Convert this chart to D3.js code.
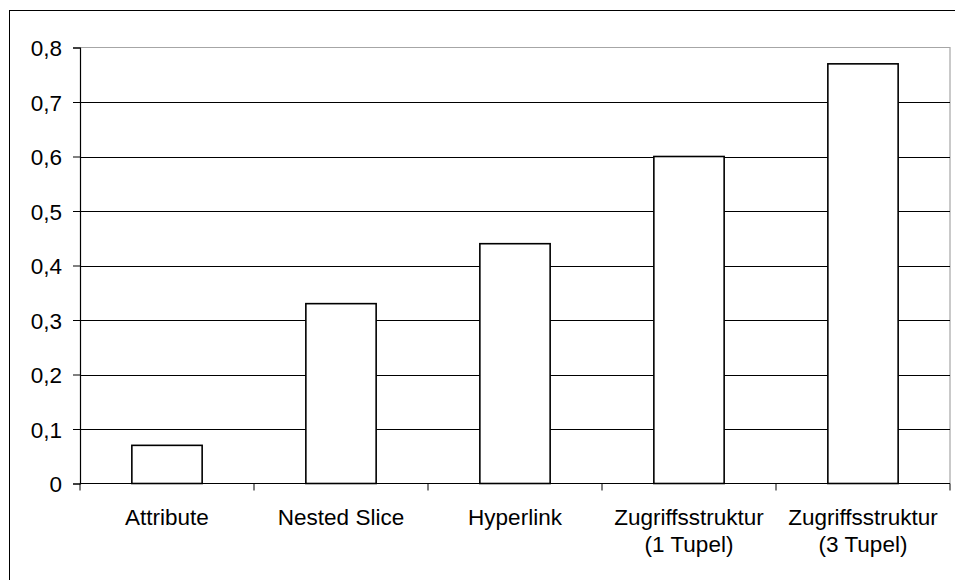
<!DOCTYPE html>
<html>
<head>
<meta charset="utf-8">
<script src="https://cdn.jsdelivr.net/npm/d3@7"></script>
<style>
  html, body { margin: 0; padding: 0; background: #fff; }
  svg { display: block; }
  text { font-family: "Liberation Sans", Arial, sans-serif; fill: #000; }
</style>
</head>
<body>
<div id="chart"></div>
<script>
// Categories (two-line labels) and their values
const categories = [
  ["Attribute"],
  ["Nested Slice"],
  ["Hyperlink"],
  ["Zugriffsstruktur", "(1 Tupel)"],
  ["Zugriffsstruktur", "(3 Tupel)"]
];
const values = [0.07, 0.33, 0.44, 0.60, 0.77];
const yTicks = [0, 0.1, 0.2, 0.3, 0.4, 0.5, 0.6, 0.7, 0.8];
const yTickLabels = ["0", "0,1", "0,2", "0,3", "0,4", "0,5", "0,6", "0,7", "0,8"];

const W = 955, H = 580;
const plot = { left: 80, right: 950, top: 47.5, bottom: 483.5 };
const fontSize = 22.5;

const svg = d3.select("#chart").append("svg")
  .attr("width", W).attr("height", H);

// Outer chart frame
svg.append("rect")
  .attr("x", 9.5).attr("y", 10.5)
  .attr("width", W).attr("height", H)
  .attr("fill", "none").attr("stroke", "#000").attr("stroke-width", 1);

const keys = categories.map((c, i) => i);
const x = d3.scaleBand().domain(keys).range([plot.left, plot.right]).paddingInner(0).paddingOuter(0);
const y = d3.scaleLinear().domain([0, 0.8]).range([plot.bottom, plot.top]);

// Plot area border (top and right, grey)
svg.append("path")
  .attr("d", `M${plot.left},${plot.top}H${plot.right}V${plot.bottom}`)
  .attr("fill", "none").attr("stroke", "#a6a6a6").attr("stroke-width", 1.2);

// Horizontal gridlines
svg.append("g").selectAll("line")
  .data(yTicks.filter(t => t > 0 && t < 0.8))
  .join("line")
  .attr("x1", plot.left).attr("x2", plot.right)
  .attr("y1", d => Math.round(y(d)) + 0.5).attr("y2", d => Math.round(y(d)) + 0.5)
  .attr("stroke", "#000").attr("stroke-width", 1);

// Y axis
const yAxis = d3.axisLeft(y)
  .tickValues(yTicks)
  .tickFormat((d, i) => yTickLabels[i])
  .tickSize(7).tickPadding(11);
const gy = svg.append("g").attr("transform", `translate(${plot.left},0)`).call(yAxis);
gy.select(".domain").attr("stroke", "#000").attr("stroke-width", 1.2);
gy.selectAll(".tick line").attr("stroke", "#000");
gy.selectAll(".tick text")
  .attr("font-size", fontSize)
  .attr("font-family", "Liberation Sans, Arial, sans-serif")
  .attr("dy", "0.36em");

// X axis baseline and boundary ticks
svg.append("line")
  .attr("x1", plot.left).attr("x2", plot.right)
  .attr("y1", plot.bottom).attr("y2", plot.bottom)
  .attr("stroke", "#000").attr("stroke-width", 1.2);
const boundaries = keys.map(k => x(k)).concat([x(keys[keys.length - 1]) + x.bandwidth()]);
svg.append("g").selectAll("line")
  .data(boundaries)
  .join("line")
  .attr("x1", d => d).attr("x2", d => d)
  .attr("y1", plot.bottom).attr("y2", plot.bottom + 7)
  .attr("stroke", "#000").attr("stroke-width", 1);

// Bars
const barW = x.bandwidth() * 0.404;
svg.append("g").selectAll("rect")
  .data(values)
  .join("rect")
  .attr("x", (d, i) => x(i) + (x.bandwidth() - barW) / 2)
  .attr("y", d => y(d))
  .attr("width", barW)
  .attr("height", d => y(0) - y(d))
  .attr("fill", "#fff")
  .attr("stroke", "#000")
  .attr("stroke-width", 1.6);

// Category labels
const lbl = svg.append("g").selectAll("text")
  .data(categories)
  .join("text")
  .attr("text-anchor", "middle")
  .attr("font-size", fontSize)
  .attr("x", (d, i) => x(i) + x.bandwidth() / 2)
  .attr("y", 525);
lbl.selectAll("tspan")
  .data(d => d)
  .join("tspan")
  .attr("x", function () { return d3.select(this.parentNode).attr("x"); })
  .attr("dy", (d, i) => i === 0 ? 0 : 27)
  .text(d => d);
</script>
</body>
</html>
